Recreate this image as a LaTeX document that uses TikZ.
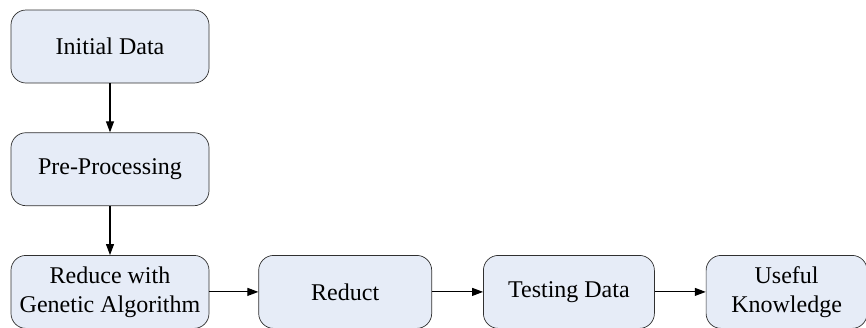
\documentclass[tikz,border=0pt]{standalone}
\usepackage{fontspec}
\setmainfont{Liberation Serif}
\usetikzlibrary{positioning,arrows.meta}
\definecolor{BoxFill}{HTML}{E6ECF7}
\definecolor{BoxLine}{HTML}{303030}

\begin{document}
\begin{tikzpicture}[
      x=1pt, y=-1pt,
      node distance=49pt,
      flowbox/.style={
        rounded corners=15pt,
        draw=BoxLine,
        fill=BoxFill,
        line width=0.7pt,
        minimum height=73pt,
        inner sep=2pt,
        align=center,
        font=\fontsize{24}{29}\selectfont
      },
      arrow/.style={-{Triangle[length=11pt,width=8pt]},line width=1.1pt}
    ]
      \useasboundingbox (0,0) rectangle (866,327);
      \node[flowbox,minimum width=198pt] (init) at (110,46.5) {Initial Data};
      \node[flowbox,minimum width=198pt,below=of init] (pre) {Pre-Processing};
      \node[flowbox,minimum width=198pt,below=of pre] (ga) {Reduce with\\Genetic Algorithm};
      \node[flowbox,minimum width=173pt,right=49pt of ga] (red) {Reduct};
      \node[flowbox,minimum width=171pt,right=51pt of red] (test) {Testing Data};
      \node[flowbox,minimum width=161pt,right=51pt of test] (know) {Useful\\Knowledge};
      \draw[arrow] (init) -- (pre);
      \draw[arrow] (pre) -- (ga);
      \draw[arrow] (ga) -- (red);
      \draw[arrow] (red) -- (test);
      \draw[arrow] (test) -- (know);
    \end{tikzpicture}
\end{document}
